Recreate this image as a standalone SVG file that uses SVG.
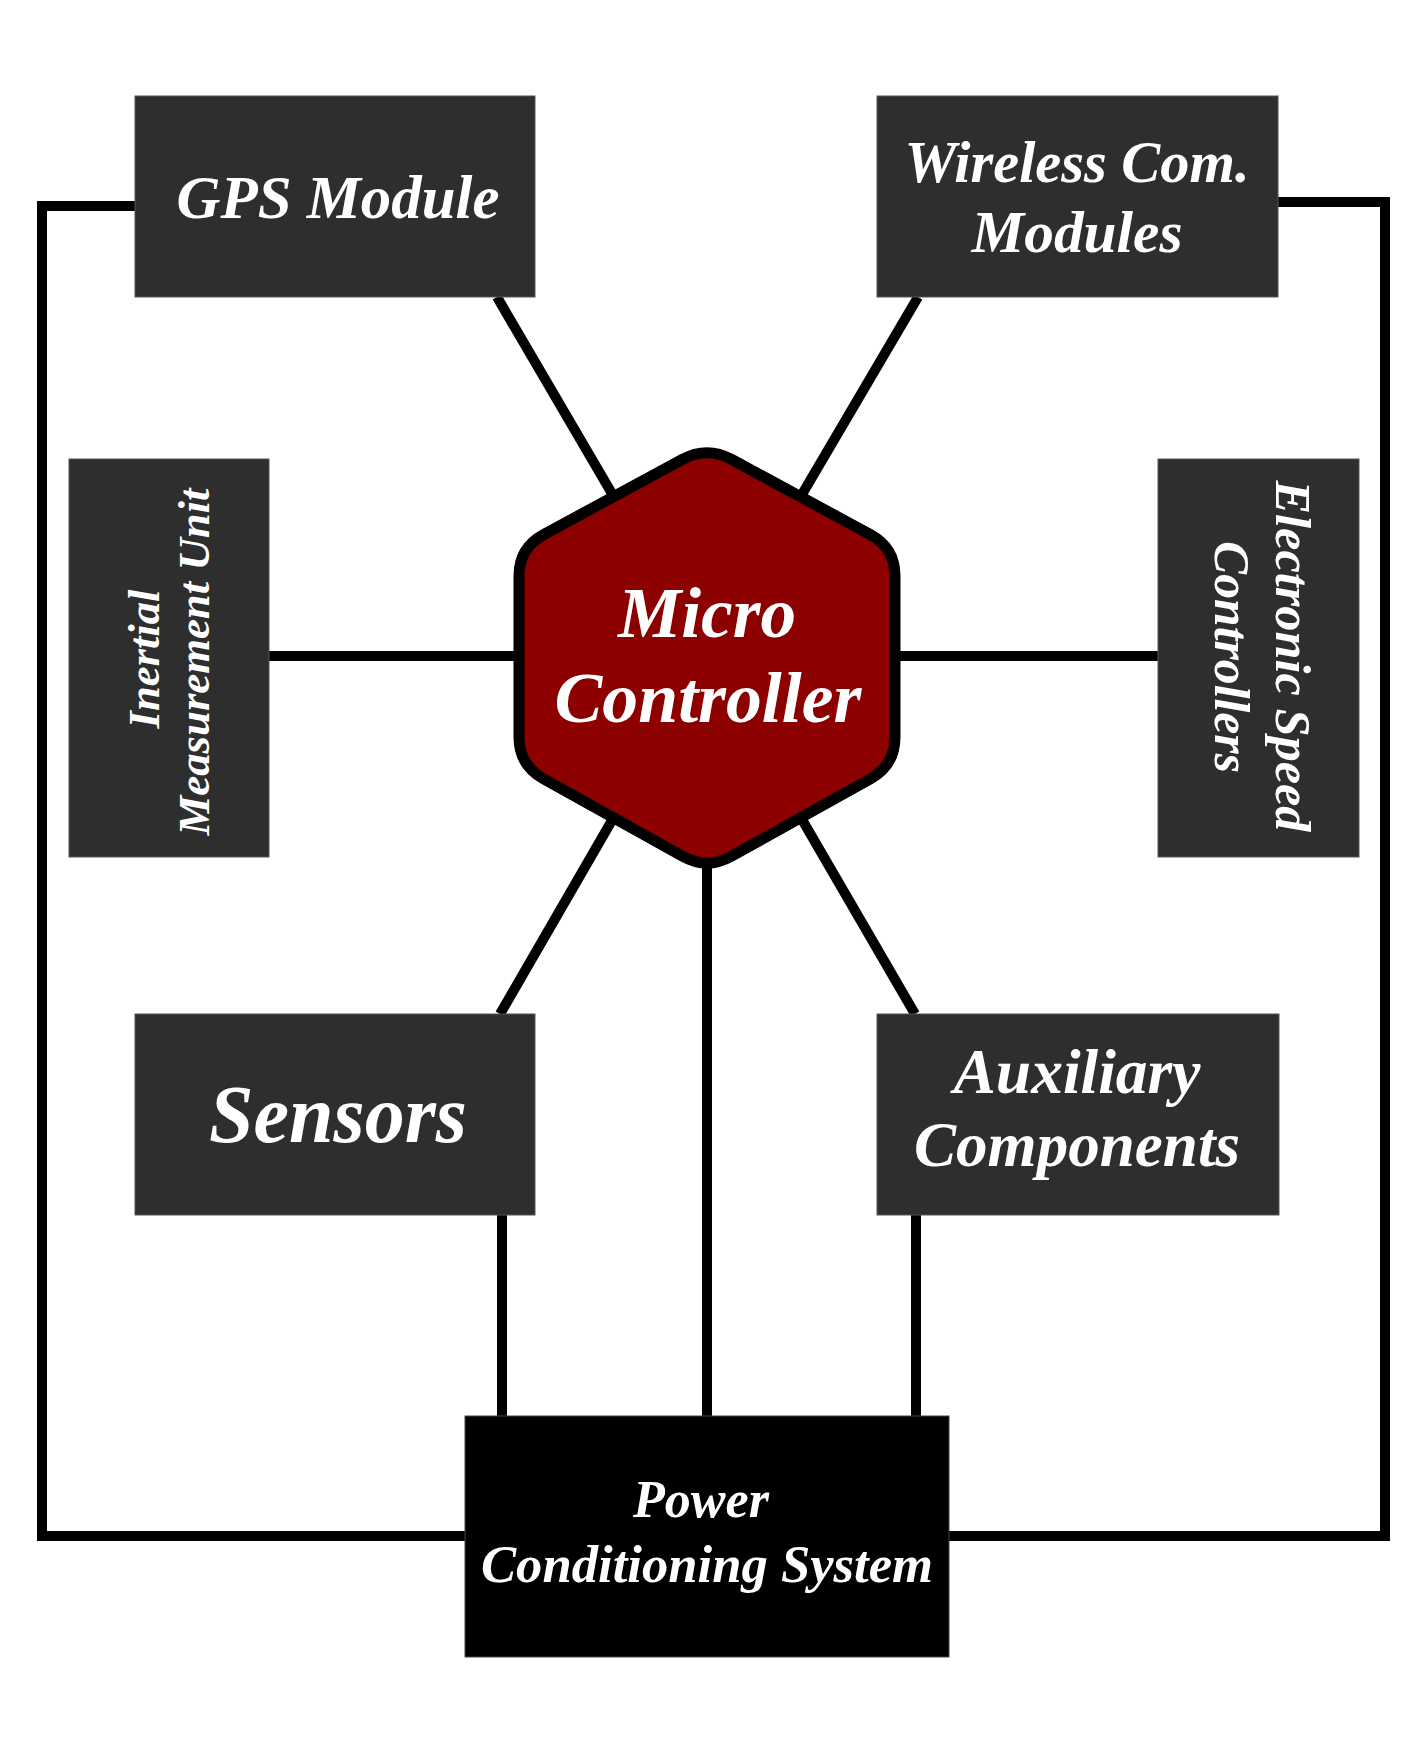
<svg xmlns="http://www.w3.org/2000/svg" width="1414" height="1742" viewBox="0 0 1414 1742">
<style>
.box{fill:#2e2e2e;stroke:#555;stroke-width:1}
.pbox{fill:#000;stroke:#444;stroke-width:1}
.lbl{fill:#fff;font-family:"Liberation Serif","Times New Roman",serif;font-weight:bold;font-style:italic;text-anchor:middle}
.con{fill:none;stroke:#000;stroke-width:10;stroke-linejoin:miter;stroke-linecap:butt}
</style>
<rect width="1414" height="1742" fill="#fff"/>
<g id="connectors" class="con">
<polyline points="136,206 42,206 42,1536 466,1536"/>
<polyline points="1277,202 1385,202 1385,1536 948,1536"/>
<line x1="497" y1="297" x2="707" y2="656"/>
<line x1="918" y1="297" x2="707" y2="656"/>
<line x1="500" y1="1014" x2="707" y2="656"/>
<line x1="915" y1="1014" x2="707" y2="656"/>
<line x1="269" y1="656" x2="707" y2="656"/>
<line x1="707" y1="656" x2="1158" y2="656"/>
<line x1="707" y1="656" x2="707" y2="1416"/>
<line x1="502" y1="1215" x2="502" y2="1416"/>
<line x1="916" y1="1215" x2="916" y2="1416"/>
</g>
<g id="gps">
<rect class="box" x="135" y="96" width="400" height="201"/>
<text class="lbl" x="338" y="218" font-size="62" textLength="323" lengthAdjust="spacingAndGlyphs">GPS Module</text>
</g>
<g id="wireless">
<rect class="box" x="877" y="96" width="401" height="201"/>
<text class="lbl" x="1077" y="182" font-size="60" textLength="345" lengthAdjust="spacingAndGlyphs">Wireless Com.</text>
<text class="lbl" x="1077" y="252" font-size="60" textLength="211" lengthAdjust="spacingAndGlyphs">Modules</text>
</g>
<g id="imu">
<rect class="box" x="69" y="459" width="200" height="398"/>
<text class="lbl" transform="translate(159,659) rotate(-90)" font-size="45" textLength="139" lengthAdjust="spacingAndGlyphs">Inertial</text>
<text class="lbl" transform="translate(209,662) rotate(-90)" font-size="45" textLength="347" lengthAdjust="spacingAndGlyphs">Measurement Unit</text>
</g>
<g id="esc">
<rect class="box" x="1158" y="459" width="201" height="398"/>
<text class="lbl" transform="translate(1276,656) rotate(90)" font-size="50" textLength="351" lengthAdjust="spacingAndGlyphs">Electronic Speed</text>
<text class="lbl" transform="translate(1215,657) rotate(90)" font-size="50" textLength="232" lengthAdjust="spacingAndGlyphs">Controllers</text>
</g>
<g id="sensors">
<rect class="box" x="135" y="1014" width="400" height="201"/>
<text class="lbl" x="338" y="1142" font-size="82" textLength="258" lengthAdjust="spacingAndGlyphs">Sensors</text>
</g>
<g id="auxiliary">
<rect class="box" x="877" y="1014" width="402" height="201"/>
<text class="lbl" x="1077" y="1093" font-size="64" textLength="247" lengthAdjust="spacingAndGlyphs">Auxiliary</text>
<text class="lbl" x="1077" y="1166" font-size="64" textLength="326" lengthAdjust="spacingAndGlyphs">Components</text>
</g>
<g id="power">
<rect class="pbox" x="465" y="1416" width="484" height="241"/>
<text class="lbl" x="701" y="1517" font-size="52" textLength="136" lengthAdjust="spacingAndGlyphs">Power</text>
<text class="lbl" x="707" y="1582" font-size="53" textLength="452" lengthAdjust="spacingAndGlyphs">Conditioning System</text>
</g>
<g id="microcontroller">
<path d="M682.4 459.4 Q707 446 731.6 459.4 L870.4 534.6 Q895 548 895 576 L895 737 Q895 765 870.6 778.7 L731.4 856.3 Q707 870 682.6 856.3 L543.4 778.7 Q519 765 519 737 L519 576 Q519 548 543.6 534.6 Z" fill="#8c0000" stroke="#000" stroke-width="11" stroke-linejoin="round"/>
<text class="lbl" x="707" y="637" font-size="72" textLength="178" lengthAdjust="spacingAndGlyphs">Micro</text>
<text class="lbl" x="708" y="722" font-size="72" textLength="307" lengthAdjust="spacingAndGlyphs">Controller</text>
</g>
</svg>
